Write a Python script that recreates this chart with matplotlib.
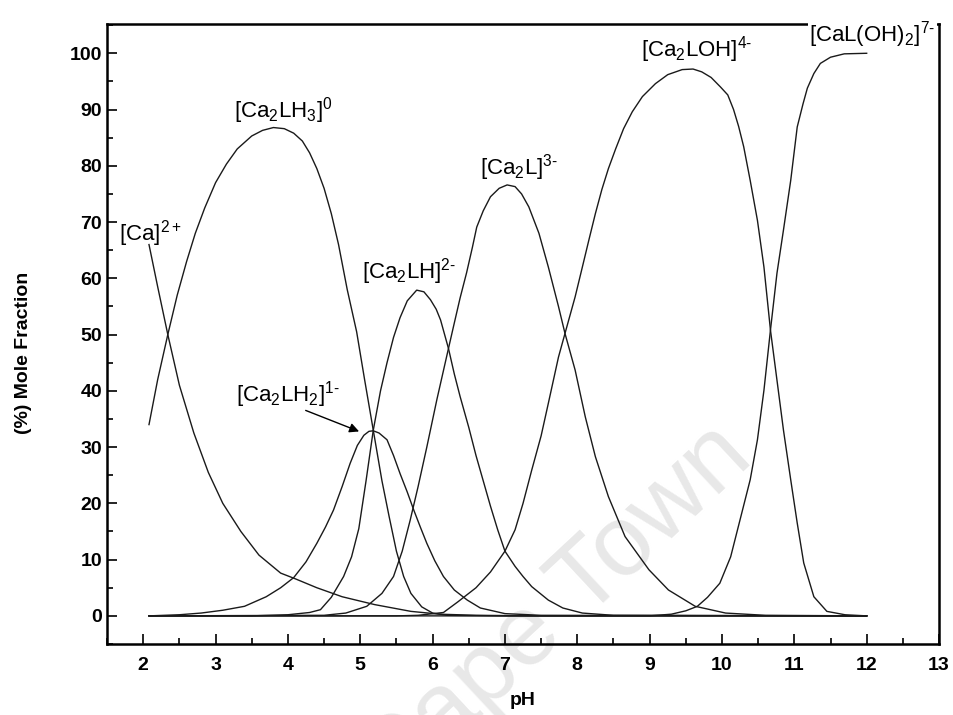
import numpy as np
import matplotlib.pyplot as plt
from matplotlib.ticker import MultipleLocator

plt.rcParams['font.family'] = ['Liberation Sans', 'DejaVu Sans']
plt.rcParams['mathtext.fontset'] = 'custom'
plt.rcParams['mathtext.rm'] = 'Liberation Sans'
plt.rcParams['mathtext.default'] = 'regular'

# species distribution, % mole fraction vs pH
ph_ca = [2.08, 2.2, 2.34, 2.5, 2.7, 2.9, 3.1, 3.35, 3.6, 3.9, 4.1, 4.4, 4.75, 5.2, 5.7, 6.1, 6.6, 7.5, 12.0]
frac_ca = [66, 58.5, 50, 41, 32.5, 25.5, 20, 15, 10.8, 7.6, 6.6, 5.0, 3.4, 2.0, 0.8, 0.3, 0.1, 0, 0]

ph_lh3 = [2.08, 2.2, 2.34, 2.47, 2.6, 2.72, 2.85, 3.0, 3.15, 3.3, 3.5, 3.65, 3.8, 3.95, 4.08, 4.2,
          4.3, 4.4, 4.5, 4.6, 4.7, 4.82, 4.95, 5.06, 5.18, 5.3, 5.4, 5.5, 5.6, 5.7, 5.85, 6.0, 6.2, 7.0, 12.0]
frac_lh3 = [34, 42, 50, 57, 63, 68, 72.5, 77, 80.3, 83, 85.3, 86.3, 86.8, 86.6, 85.8, 84.4,
            82.3, 79.5, 76, 71.5, 66, 58, 50.5, 42, 33, 24, 17.6, 11.5, 7, 4, 1.6, 0.5, 0.1, 0, 0]

ph_lh2 = [2.08, 2.5, 2.8, 3.1, 3.4, 3.7, 3.9, 4.08, 4.25, 4.4, 4.52, 4.63, 4.75, 4.86, 4.96, 5.05, 5.12,
          5.18, 5.26, 5.37, 5.46, 5.55, 5.65, 5.74, 5.83, 5.92, 6.03, 6.15, 6.3, 6.48, 6.66, 7.0, 7.5, 12.0]
frac_lh2 = [0, 0.2, 0.5, 1.0, 1.7, 3.4, 5.0, 6.8, 9.6, 12.9, 15.8, 18.8, 23, 27.1, 30.3, 32.1, 32.8,
            32.9, 32.5, 31.3, 28.5, 25.3, 22, 18.8, 15.8, 12.9, 9.8, 7.0, 4.6, 2.8, 1.4, 0.4, 0.1, 0]

ph_lh = [2.08, 3.5, 4.0, 4.3, 4.45, 4.6, 4.77, 4.88, 4.98, 5.08, 5.18, 5.28, 5.37, 5.46, 5.55, 5.65,
         5.78, 5.88, 5.97, 6.05, 6.11, 6.22, 6.3, 6.38, 6.5, 6.6, 6.7, 6.8, 6.9, 7.0, 7.14, 7.25, 7.37,
         7.6, 7.8, 8.07, 8.5, 12.0]
frac_lh = [0, 0, 0.2, 0.6, 1.1, 3.3, 7, 10.5, 15.5, 24, 33, 40, 45, 49.5, 53, 56,
           57.9, 57.6, 56.2, 54.5, 52.6, 47.5, 43, 39, 33.5, 28.5, 24, 19.5, 15.3, 11.5, 8.8, 7, 5.2,
           2.8, 1.4, 0.5, 0.1, 0]

ph_l = [2.08, 4.5, 4.8, 5.09, 5.3, 5.46, 5.58, 5.69, 5.8, 5.92, 6.06, 6.21, 6.29, 6.38, 6.47, 6.55,
        6.61, 6.7, 6.8, 6.92, 7.03, 7.14, 7.23, 7.33, 7.47, 7.6, 7.74, 7.83, 7.97, 8.11, 8.25, 8.43,
        8.66, 8.99, 9.26, 9.63, 10.05, 10.6, 12.0]
frac_l = [0, 0.1, 0.5, 1.7, 4, 7, 11.5, 17, 23, 30, 38.5, 47, 51.5, 56.5, 61, 65.5,
          69.1, 72, 74.5, 76, 76.6, 76.3, 75, 72.7, 68, 62, 55, 50.2, 43.7, 35.4, 28.3, 21.2,
          14.1, 8.2, 4.6, 1.7, 0.5, 0.1, 0]

ph_loh = [2.08, 5.5, 5.8, 6.15, 6.35, 6.6, 6.8, 7.0, 7.14, 7.25, 7.37, 7.5, 7.6, 7.74, 7.83, 7.97,
          8.07, 8.16, 8.25, 8.34, 8.43, 8.53, 8.64, 8.76, 8.9, 9.08, 9.25, 9.45, 9.6, 9.72, 9.85, 9.98,
          10.08, 10.16, 10.23, 10.3, 10.39, 10.49, 10.58, 10.67, 10.76, 10.85, 10.95, 11.04, 11.13,
          11.27, 11.45, 11.7, 12.0]
frac_loh = [0, 0, 0.1, 0.6, 2.5, 5, 7.8, 11.5, 15.3, 20, 25.9, 32, 37.8, 46, 50.2, 56.7,
            62, 66.8, 71.5, 75.8, 79.5, 83, 86.6, 89.6, 92.3, 94.6, 96.2, 97.1, 97.2, 96.7, 95.7, 94,
            92.6, 90, 87, 83.4, 77.4, 70.3, 62, 50.8, 41.9, 33, 24.2, 16.5, 9.4,
            3.4, 0.8, 0.2, 0]

ph_oh2 = [2.08, 9.0, 9.3, 9.5, 9.66, 9.8, 9.97, 10.12, 10.26, 10.39, 10.49, 10.58, 10.67, 10.76,
          10.85, 10.95, 11.04, 11.12, 11.18, 11.27, 11.36, 11.5, 11.69, 12.0]
frac_oh2 = [0, 0, 0.3, 0.9, 1.7, 3.3, 5.8, 10.5, 17.6, 24.2, 31.3, 40.1, 50.8, 60.9,
            68.6, 77.4, 86.9, 91, 93.8, 96.4, 98.2, 99.3, 99.9, 100]

fig = plt.figure(figsize=(9.54, 7.15), dpi=100)
ax = fig.add_axes([0.1122, 0.0993, 0.8721, 0.8671])

# faint watermark behind everything
fig.text(0.41, -0.12, 'Cape Town', fontsize=72, color='#e8e8e8', rotation=43,
         rotation_mode='anchor', ha='left', va='baseline', zorder=-1)
ax.patch.set_alpha(0)

for ph, frac in [(ph_ca, frac_ca), (ph_lh3, frac_lh3), (ph_lh2, frac_lh2), (ph_lh, frac_lh),
                 (ph_l, frac_l), (ph_loh, frac_loh), (ph_oh2, frac_oh2)]:
    ax.plot(ph, frac, color='#1a1a1a', lw=1.0)

ax.set_xlim(1.5, 13)
ax.set_ylim(-5, 105.2)
ax.xaxis.set_minor_locator(MultipleLocator(0.5))
ax.yaxis.set_minor_locator(MultipleLocator(5))
ax.set_xticks(np.arange(2, 14))
ax.set_yticks(np.arange(0, 101, 10))
ax.tick_params(which='both', direction='in', width=1.2, labelsize=14)
ax.tick_params(which='major', length=7)
ax.tick_params(which='minor', length=4.5)
ax.tick_params(axis='x', pad=9)
for lab in ax.get_xticklabels() + ax.get_yticklabels():
    lab.set_fontweight('bold')
for sp in ax.spines.values():
    sp.set_linewidth(1.8)

ax.set_xlabel('pH', fontsize=14, fontweight='bold')
ax.xaxis.set_label_coords(0.5, -0.078)
ax.set_ylabel('(%) Mole Fraction', fontsize=14, fontweight='bold')
ax.yaxis.set_label_coords(-0.09, 0.47)

lbl = dict(fontsize=16, color='k', ha='center', va='center')
ax.text(2.1, 68, r'[Ca]$^{2+}$', **lbl)
ax.text(3.93, 89.8, r'[Ca$_2$LH$_3$]$^0$', **lbl)
ax.text(4.0, 39.4, r'[Ca$_2$LH$_2$]$^{1\text{-}}$', **lbl)
ax.text(5.67, 61.2, r'[Ca$_2$LH]$^{2\text{-}}$', **lbl)
ax.text(7.2, 79.6, r'[Ca$_2$L]$^{3\text{-}}$', **lbl)
ax.text(9.65, 100.6, r'[Ca$_2$LOH]$^{4\text{-}}$', **lbl)
ax.text(12.08, 103.4, r'[CaL(OH)$_2$]$^{7\text{-}}$', clip_on=False, zorder=5,
        bbox=dict(facecolor='white', edgecolor='none', pad=1), **lbl)

ax.annotate('', xy=(5.02, 32.6), xytext=(4.21, 36.7),
            arrowprops=dict(arrowstyle='-|>', color='k', lw=1.0, mutation_scale=14))

fig.savefig('out.png', dpi=100)
